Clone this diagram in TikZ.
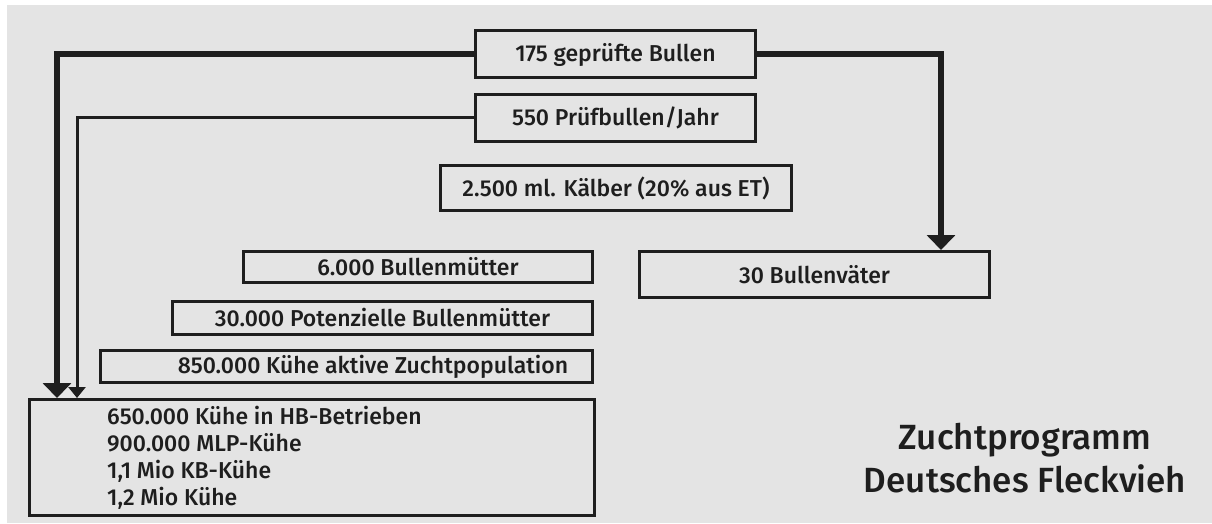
\documentclass[tikz,border=0pt]{standalone}
\usepackage{fontspec}
\setmainfont{Fira Sans Medium}
\usetikzlibrary{arrows.meta}
\definecolor{paper}{HTML}{E4E4E4}
\definecolor{ink}{HTML}{1E1E1E}
\tikzset{
  box/.style={draw=ink, line width=3pt, inner sep=0pt, text=ink,
    font=\fontsize{23}{27}\selectfont},
  boxtext/.style={text=ink, inner sep=0pt, font=\fontsize{23}{27}\selectfont},
  heavy/.style={draw=ink, line width=6pt,
    -{Triangle[width=28pt,length=15pt]}},
  light/.style={draw=ink, line width=3pt,
    -{Triangle[width=17pt,length=11pt]}},
  titletext/.style={text=ink, inner sep=0pt, font=\fontsize{35}{43}\selectfont}
}
\begin{document}
\begin{tikzpicture}[x=1pt,y=-1pt]
  % page and grey panel
  \fill[white] (0,0) rectangle (1212,524);
  \fill[paper] (7,5) rectangle (1212,523);
  \useasboundingbox (0,0) rectangle (1212,524);

  % bull side
  \node[box, minimum width=280pt, minimum height=47pt] (tested) at (615.5,54.5) {175 geprüfte Bullen};
  \node[box, minimum width=280pt, minimum height=47pt] (young) at (615.5,118) {550 Prüfbullen/Jahr};
  \node[box, minimum width=351pt, minimum height=45pt] (calves) at (616,188) {2.500 ml. Kälber (20\% aus ET)};
  \node[box, minimum width=350pt, minimum height=46pt] (sires) at (814.5,274.5) {30 Bullenväter};

  % cow side
  \node[box, minimum width=349pt, minimum height=31pt] (dams) at (418,267) {6.000 Bullenmütter};
  \node[box, minimum width=420pt, minimum height=33pt] (potdams) at (382.5,318) {30.000 Potenzielle Bullenmütter};
  \node[box, minimum width=492pt, minimum height=32pt] (active) at (346.5,366.5) {};
  \node[boxtext] (activetext) at (373,366.5) {850.000 Kühe aktive Zuchtpopulation};
  \node[box, minimum width=565pt, minimum height=116pt] (pop) at (312,457.5) {};
  \node[boxtext, anchor=west, align=left] (poptext) at (107,458)
    {650.000 Kühe in HB-Betrieben\\900.000 MLP-Kühe\\1,1 Mio KB-Kühe\\1,2 Mio Kühe};

  % title
  \node[titletext, anchor=base] (title1) at (1025,449) {Zuchtprogramm};
  \node[titletext, anchor=base] (title2) at (1025,492) {Deutsches Fleckvieh};

  % connectors
  \coordinate (heavyturn) at (57,54.5);
  \coordinate (lightturn) at (77,118);
  \coordinate (siresturn) at (941,54.5);
  \draw[heavy] (tested.west) -- (heavyturn) -- (heavyturn |- pop.north);
  \draw[light] (young.west) -- (lightturn) -- (lightturn |- pop.north);
  \draw[heavy] (tested.east) -- (siresturn) -- (siresturn |- sires.north);
\end{tikzpicture}
\end{document}
